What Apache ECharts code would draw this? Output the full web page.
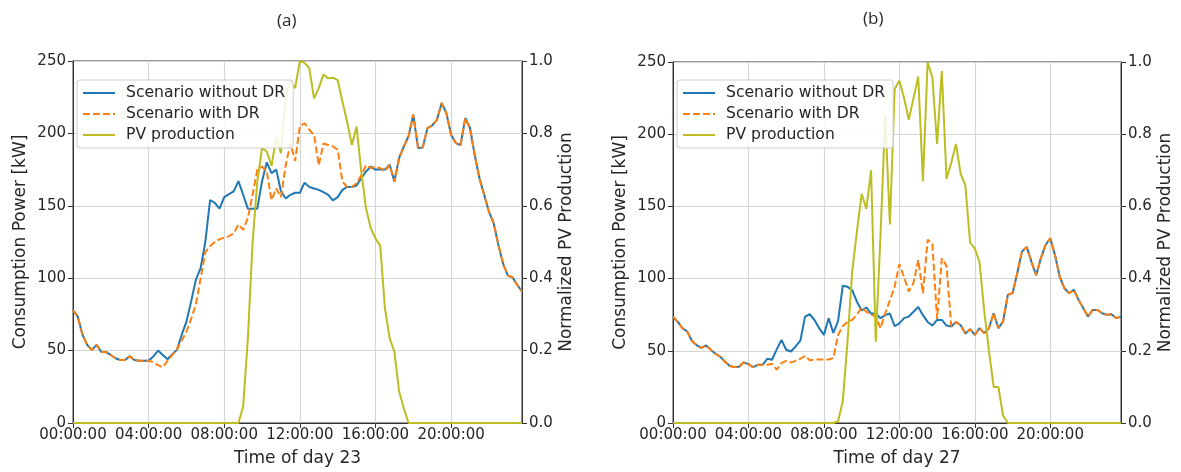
<!DOCTYPE html>
<html><head><meta charset="utf-8">
<script src="https://cdn.jsdelivr.net/npm/echarts@6/dist/echarts.min.js"></script>
<style>html,body{margin:0;padding:0;background:#fff}#c{width:1181px;height:472px}</style>
</head><body><div id="c"></div>
<script>
// x categories: 15-minute steps of one day
const times = [];
for (let h = 0; h < 24; h++) for (let m = 0; m < 60; m += 15)
  times.push(String(h).padStart(2,'0') + ':' + String(m).padStart(2,'0') + ':00');

const panelTitles = ['(a)', '(b)'];
const xNames = ['Time of day 23', 'Time of day 27'];
const legendNames = ['Scenario without DR', 'Scenario with DR', 'PV production'];

// Day 23 (panel a)
const a_withoutDR = [78,73.5,61,54,50.5,54,49,49,47,44.7,43.5,43.5,46,43.5,43,43,43,46,50,47,44,47.5,50.5,61,70,84,99,107,125,154,152,148,156,158,
  160,167,157.6,148,148,148,167,180,172.6,175,160,155,157.6,159,159,166,163,162,161,159.5,157.6,153.7,156,161,163,163,164,169,173.7,177,175,
  175,175,178.3,166.8,183,191,198,213,190,190.3,203.7,205.5,209.4,221,214,199,193.3,192,210.6,203.7,185,169,157.6,146,138,123,110,102,100.5,95.4,90.8];
const a_withDR = [78,73.5,61,54,50.5,54,49,49,47,44.7,43.5,43.5,46,43.5,43,43,43,
  42,40,38.5,43,47,51,57,63,72,82,100,118,122,125,127,128,129,
  131,137,133.4,141.5,157.6,175,177,173.7,154,162,156,178,193,181,205,207,202.5,199,178,193,192,191,188.7,166.8,163,163,165.6,171,178,176,177,176,174,
  178.3,166.8,183,191,198,213,190,190.3,203.7,205.5,209.4,221,214,199,193.3,192,210.6,203.7,185,169,157.6,146,138,123,110,102,100.5,95.4,90.8];
const a_pv = [0,0,0,0,0,0,0,0,0,0,0,0,0,0,0,0,0,0,0,0,0,0,0,0,0,0,0,0,0,0,0,0,0,0,0,0,
  0.045,0.234,0.50,0.667,0.76,0.75,0.71,0.79,0.745,0.906,0.947,0.925,1.0,0.995,0.98,0.897,0.925,0.963,0.952,0.954,0.947,0.888,0.832,0.768,0.819,0.694,0.593,0.538,0.51,0.49,0.317,0.234,0.197,0.087,0.04,
  0,0,0,0,0,0,0,0,0,0,0,0,0,0,0,0,0,0,0,0,0,0,0,0,0];

// Day 27 (panel b)
const b_withoutDR = [73.7,70,65.7,63.4,57,54,52,53.7,50.7,48,46,42.6,39.6,38.7,39,42,40.8,38.7,40.3,40.3,44.5,43.8,51,57.6,50.7,49.5,53,57,73.7,75.3,71.4,65.7,61,
  72.6,62.4,70.5,95,94.3,92,84,78,80,75.8,75.8,72.6,74.7,75.8,67,69,72.6,73.7,77,80.4,74.7,70,67.5,71.4,71.4,67.5,66.8,70,67.7,62,65,61,
  65.7,62.2,65.7,76,65.7,70.3,88.7,89.9,103.7,118.7,122,111.8,102.3,114,123.3,127.9,116.4,101.4,93.3,89.9,92.2,85.3,79.5,73.7,78.3,78.3,76,74.9,75.3,72.6,73.7];
const b_withDR = [73.7,70,65.7,63.4,57,54,52,53.7,50.7,48,46,42.6,39.6,38.7,39,42,40.8,38.7,40.3,40.3,
  40.3,41,37,41.5,43,42,43,44.5,46.5,43.5,44,44,44,44,45,
  61,67,70,71.4,75,80,77,75,73.7,65.7,76,85,94.5,
  110,101,91,97,113,90,127,124,72,114,109,67,70,67.7,62,65,61,
  65.7,62.2,65.7,76,65.7,70.3,88.7,89.9,103.7,118.7,122,111.8,102.3,114,123.3,127.9,116.4,101.4,93.3,89.9,92.2,85.3,79.5,73.7,78.3,78.3,76,74.9,75.3,72.6,73.7];
const b_pv = [0,0,0,0,0,0,0,0,0,0,0,0,0,0,0,0,0,0,0,0,0,0,0,0,0,0,0,0,0,0,0,0,0,0,0,
  0.005,0.06,0.225,0.42,0.53,0.635,0.593,0.70,0.225,0.52,0.85,0.55,0.925,0.948,0.9,0.84,0.9,0.96,0.67,1.0,0.957,0.773,0.975,0.676,0.72,0.773,0.69,0.658,0.50,0.483,0.446,0.31,0.2,0.1,0.1,0.02,
  0,0,0,0,0,0,0,0,0,0,0,0,0,0,0,0,0,0,0,0,0,0,0,0,0];

const leftName = 'Consumption Power [kW]';
const rightName = 'Normalized PV Production';

const FONT = 'DejaVu Sans';
const TXT = '#262626';
const AX = '#333';
const GRIDC = '#d6d6d6';
const colors = ['#1f77b4', '#ff7f0e', '#bcbd22'];

const grids = [
  {left: 73, top: 61, width: 449, height: 362},
  {left: 673, top: 62, width: 448, height: 361}
];

function xAx(gi) {
  return {
    type: 'category', gridIndex: gi, data: times, boundaryGap: false,
    name: xNames[gi], nameLocation: 'middle', nameGap: 27,
    nameTextStyle: {fontFamily: FONT, fontSize: 17, color: TXT},
    axisLine: {show: true, lineStyle: {color: AX, width: 1}},
    axisTick: {show: true, interval: 15, length: 5, lineStyle: {color: AX}},
    axisLabel: {interval: 15, fontFamily: FONT, fontSize: 15, color: TXT, margin: 5},
    splitLine: {show: true, interval: 15, lineStyle: {color: GRIDC, width: 1.2}}
  };
}
function yLeft(gi) {
  return {
    type: 'value', gridIndex: gi, min: 0, max: 250, interval: 50, position: 'left',
    name: leftName, nameLocation: 'middle', nameGap: 44, nameRotate: 90,
    nameTextStyle: {fontFamily: FONT, fontSize: 17, color: TXT},
    axisLine: {show: true, lineStyle: {color: AX}},
    axisTick: {show: true, length: 5, lineStyle: {color: AX}},
    axisLabel: {fontFamily: FONT, fontSize: 15, color: TXT, margin: 7},
    splitLine: {show: true, lineStyle: {color: GRIDC, width: 1.2}}
  };
}
function yRight(gi) {
  return {
    type: 'value', gridIndex: gi, min: 0, max: 1, interval: 0.2, position: 'right',
    name: rightName, nameLocation: 'middle', nameGap: 36, nameRotate: 90,
    nameTextStyle: {fontFamily: FONT, fontSize: 17, color: TXT},
    axisLine: {show: true, lineStyle: {color: AX}},
    axisTick: {show: true, length: 5, lineStyle: {color: AX}},
    axisLabel: {fontFamily: FONT, fontSize: 15, color: TXT, margin: 7, formatter: v => v.toFixed(1)},
    splitLine: {show: false}
  };
}
function line(name, data, gi, yi, color, dashed) {
  return {
    type: 'line', name: name, data: data, xAxisIndex: gi, yAxisIndex: yi,
    symbol: 'none', showSymbol: false, animation: false,
    lineStyle: {color: color, width: 2, type: dashed ? [7, 3] : 'solid'},
    itemStyle: {color: color}
  };
}
function legend(left) {
  return {
    data: legendNames, orient: 'vertical', left: left, top: 80,
    itemWidth: 32, itemHeight: 8, itemGap: 5,
    padding: [5, 8, 5, 5],
    itemStyle: {opacity: 0},
    backgroundColor: 'rgba(255,255,255,0.85)', borderColor: '#cccccc', borderWidth: 1, borderRadius: 3,
    textStyle: {fontFamily: FONT, fontSize: 15.6, color: TXT, padding: [0, 0, 0, 6]},
    selectedMode: false
  };
}

const chart = echarts.init(document.getElementById('c'), null, {renderer: 'canvas'});
chart.setOption({
  animation: false,
  backgroundColor: '#ffffff',
  title: [
    {text: panelTitles[0], left: 272, top: 8, textStyle: {fontFamily: 'Open Sans', fontSize: 17, fontWeight: 'normal', color: TXT}},
    {text: panelTitles[1], left: 858, top: 6, textStyle: {fontFamily: 'Open Sans', fontSize: 17, fontWeight: 'normal', color: TXT}}
  ],
  grid: grids.map(g => Object.assign({show: true, borderColor: AX, borderWidth: 1, backgroundColor: 'transparent'}, g)),
  legend: [legend(77), legend(677)],
  xAxis: [xAx(0), xAx(1)],
  yAxis: [yLeft(0), yRight(0), yLeft(1), yRight(1)],
  series: [
    line(legendNames[0], a_withoutDR, 0, 0, colors[0], false),
    line(legendNames[1], a_withDR, 0, 0, colors[1], true),
    line(legendNames[2], a_pv, 0, 1, colors[2], false),
    line(legendNames[0], b_withoutDR, 1, 2, colors[0], false),
    line(legendNames[1], b_withDR, 1, 2, colors[1], true),
    line(legendNames[2], b_pv, 1, 3, colors[2], false)
  ]
});
</script>
</body></html>
